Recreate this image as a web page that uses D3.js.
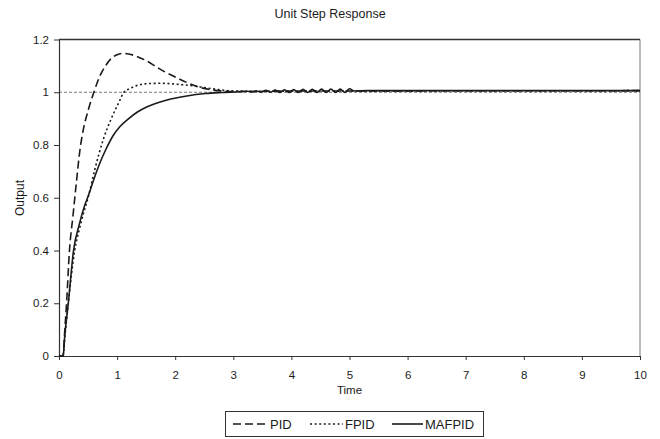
<!DOCTYPE html>
<html>
<head>
<meta charset="utf-8">
<script src="https://cdn.jsdelivr.net/npm/d3@7"></script>
<style>
  body { margin: 0; background: #fff; }
  svg { display: block; font-family: "Liberation Sans", Arial, sans-serif; }
</style>
</head>
<body>
<svg id="chart" width="660" height="439"></svg>
<script>
// Step response of three controllers
const pidTime   = [0, 0.07, 0.1, 0.13, 0.18, 0.24, 0.3, 0.36, 0.42, 0.5, 0.6, 0.7, 0.8, 0.9, 1.0, 1.1, 1.2, 1.35, 1.5, 1.65, 1.8, 2.0, 2.2, 2.4, 2.6, 2.8, 3.0, 3.3, 3.6, 5.1, 10];
const pidOutput = [0, 0, 0.1, 0.2, 0.4, 0.53, 0.66, 0.78, 0.86, 0.93, 1.0, 1.06, 1.1, 1.128, 1.142, 1.147, 1.145, 1.135, 1.12, 1.10, 1.08, 1.058, 1.037, 1.02, 1.01, 1.005, 1.003, 1.003, 1.004, 1.005, 1.006];

const fpidTime   = [0, 0.07, 0.1, 0.16, 0.21, 0.27, 0.35, 0.42, 0.5, 0.62, 0.76, 0.9, 1.04, 1.11, 1.2, 1.31, 1.54, 1.75, 1.94, 2.15, 2.35, 2.55, 2.75, 3.0, 3.3, 5.1, 10];
const fpidOutput = [0, 0, 0.07, 0.2, 0.3, 0.4, 0.48, 0.54, 0.6, 0.71, 0.82, 0.9, 0.966, 0.998, 1.012, 1.023, 1.033, 1.034, 1.032, 1.028, 1.023, 1.016, 1.01, 1.005, 1.004, 1.005, 1.006];

const mafpidTime   = [0, 0.07, 0.1, 0.16, 0.25, 0.35, 0.44, 0.5, 0.6, 0.7, 0.8, 0.93, 1.05, 1.2, 1.35, 1.5, 1.7, 1.94, 2.2, 2.52, 2.8, 3.1,
                      3.24, 3.32, 3.40, 3.48, 3.56, 3.64, 3.72, 3.80, 3.88, 3.96, 4.04, 4.12, 4.20, 4.28, 4.36, 4.44, 4.52, 4.60, 4.68, 4.76, 4.84, 4.92, 5.00, 5.08, 5.3, 10];
const mafpidOutput = [0, 0, 0.08, 0.2, 0.4, 0.5, 0.57, 0.605, 0.67, 0.73, 0.78, 0.835, 0.87, 0.9, 0.925, 0.943, 0.96, 0.975, 0.986, 0.995, 0.999, 1.002,
                      1.004, 1.001, 1.005, 1.000, 1.007, 1.000, 1.008, 0.999, 1.009, 0.999, 1.010, 0.999, 1.011, 0.999, 1.011, 0.999, 1.012, 0.999, 1.012, 0.999, 1.012, 0.999, 1.013, 1.005, 1.006, 1.006];

const seriesNames = ["PID", "FPID", "MAFPID"];
const xTicks = [0, 1, 2, 3, 4, 5, 6, 7, 8, 9, 10];
const yTicks = [0, 0.2, 0.4, 0.6, 0.8, 1, 1.2];
const yTickLabels = ["0", "0.2", "0.4", "0.6", "0.8", "1", "1.2"];
const referenceLevel = 1;

const ink = "#1b1b1b";
const svg = d3.select("#chart");

const x = d3.scaleLinear().domain([0, 10]).range([59, 640]);
const y = d3.scaleLinear().domain([0, 1.2]).range([356, 39.5]);

// title
svg.append("text")
  .attr("x", 330).attr("y", 18)
  .attr("text-anchor", "middle")
  .attr("font-size", 12.5)
  .attr("fill", ink)
  .text("Unit Step Response");

// reference level
svg.append("line")
  .attr("x1", x(0)).attr("x2", x(10))
  .attr("y1", y(referenceLevel)).attr("y2", y(referenceLevel))
  .attr("stroke", "#555").attr("stroke-width", 0.8)
  .attr("stroke-dasharray", "3,2");

// frame: top and right edges
svg.append("line")
  .attr("x1", x(0)).attr("x2", x(10))
  .attr("y1", y(1.2)).attr("y2", y(1.2))
  .attr("stroke", "#333").attr("stroke-width", 1.3);
svg.append("line")
  .attr("x1", x(10)).attr("x2", x(10))
  .attr("y1", y(1.2)).attr("y2", y(0))
  .attr("stroke", "#777").attr("stroke-width", 1);

// axes
const yAxis = svg.append("g")
  .attr("transform", `translate(${x(0)},0)`)
  .call(d3.axisLeft(y).tickValues(yTicks).tickFormat((d, i) => yTickLabels[i])
    .tickSize(5).tickSizeOuter(0).tickPadding(5));
const xAxis = svg.append("g")
  .attr("transform", `translate(0,${y(0)})`)
  .call(d3.axisBottom(x).tickValues(xTicks).tickFormat(d3.format("d"))
    .tickSize(4).tickSizeOuter(0).tickPadding(11));

[xAxis, yAxis].forEach(g => {
  g.selectAll("path.domain").attr("stroke", "#333").attr("stroke-width", 1.2);
  g.selectAll(".tick line").attr("stroke", "#333");
  g.selectAll(".tick text").attr("fill", ink).attr("font-size", 11.5)
    .attr("font-family", "'Liberation Sans', Arial, sans-serif");
});

// axis titles
svg.append("text")
  .attr("x", x(5)).attr("y", 394)
  .attr("text-anchor", "middle")
  .attr("font-size", 11.5).attr("fill", ink)
  .text("Time");
svg.append("text")
  .attr("transform", "translate(24,198) rotate(-90)")
  .attr("text-anchor", "middle")
  .attr("font-size", 12).attr("fill", ink)
  .text("Output");

// response curves
const styles = [
  { dash: "8,4", width: 1.6 },
  { dash: "2,2.6", width: 1.6 },
  { dash: null, width: 1.6 }
];
const series = [
  { name: seriesNames[0], t: pidTime, v: pidOutput },
  { name: seriesNames[1], t: fpidTime, v: fpidOutput },
  { name: seriesNames[2], t: mafpidTime, v: mafpidOutput }
];

const line = d3.line()
  .x(d => x(d[0]))
  .y(d => y(d[1]))
  .curve(d3.curveMonotoneX);

const plot = svg.append("g");
[2, 1, 0].forEach(i => {
  const s = series[i];
  plot.append("path")
    .datum(s.t.map((t, k) => [t, s.v[k]]))
    .attr("fill", "none")
    .attr("stroke", ink)
    .attr("stroke-width", styles[i].width)
    .attr("stroke-dasharray", styles[i].dash)
    .attr("d", line);
});

// legend
const legend = svg.append("g");
legend.append("rect")
  .attr("x", 225.5).attr("y", 411.5)
  .attr("width", 258).attr("height", 25)
  .attr("fill", "#fff").attr("stroke", "#333").attr("stroke-width", 1);

const legendItems = [
  { x1: 233, x2: 267, tx: 270 },
  { x1: 310, x2: 343, tx: 345 },
  { x1: 392, x2: 423, tx: 425 }
];
legendItems.forEach((it, i) => {
  legend.append("line")
    .attr("x1", it.x1).attr("x2", it.x2)
    .attr("y1", 424).attr("y2", 424)
    .attr("stroke", ink).attr("stroke-width", 1.6)
    .attr("stroke-dasharray", styles[i].dash);
  legend.append("text")
    .attr("x", it.tx).attr("y", 429)
    .attr("font-size", 13).attr("fill", ink)
    .text(seriesNames[i]);
});
</script>
</body>
</html>
